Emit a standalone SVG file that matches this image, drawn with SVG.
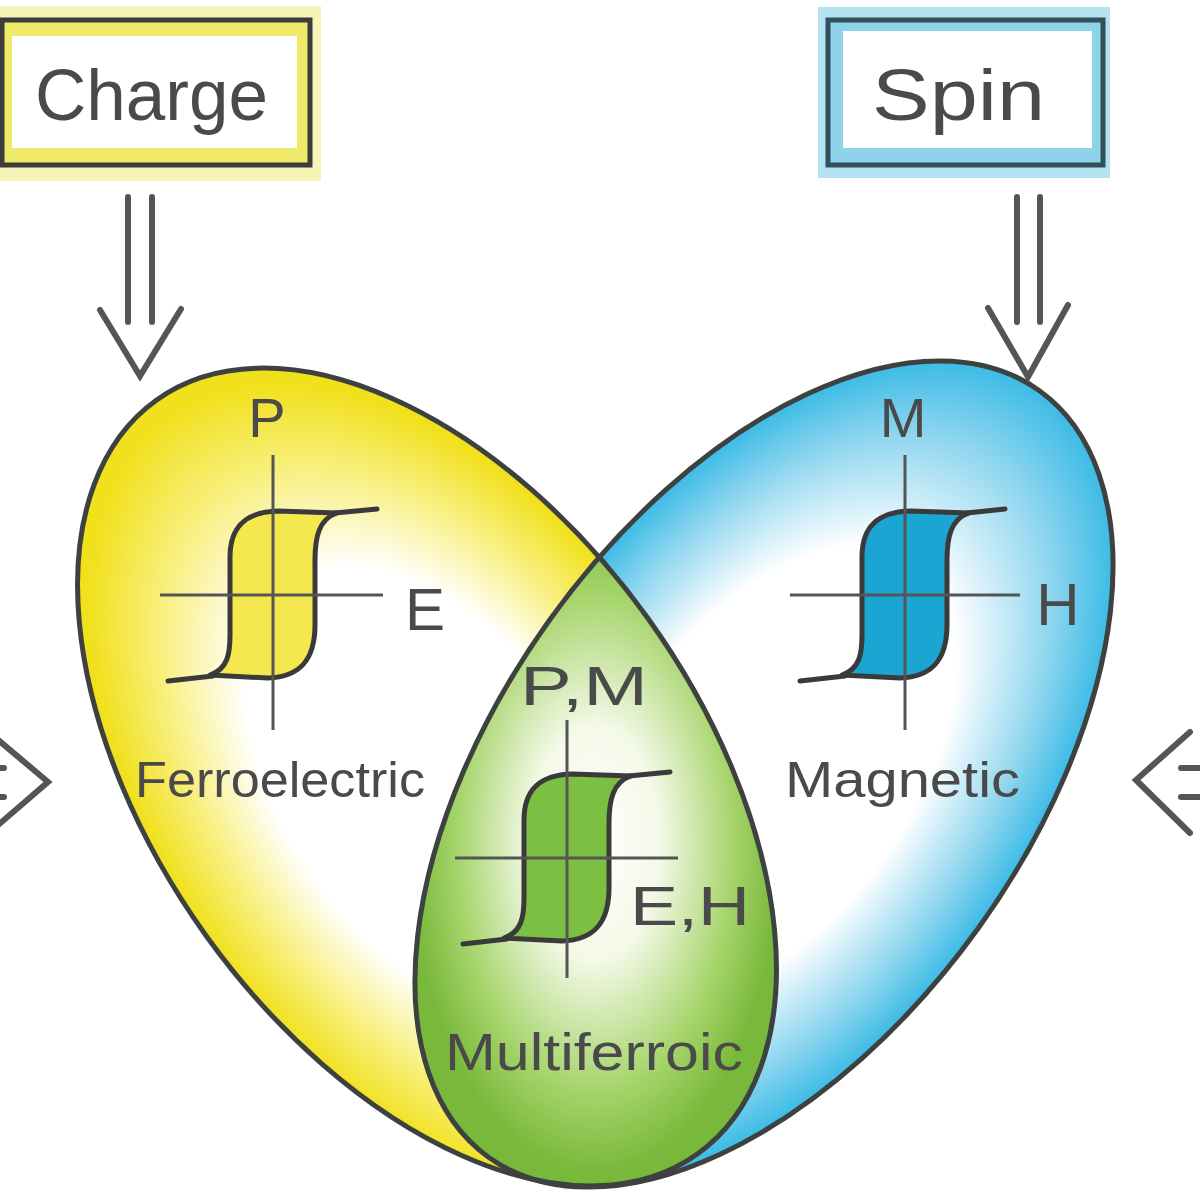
<svg xmlns="http://www.w3.org/2000/svg" width="1200" height="1200" viewBox="0 0 1200 1200">
<style>
.lbl{font-family:"Liberation Sans","DejaVu Sans",sans-serif;fill:#4a4a4a}
.ax{stroke:#555;stroke-width:3;fill:none}
.loop{stroke:#3a3a3a;stroke-width:5;stroke-linejoin:round}
.tail{stroke:#3a3a3a;stroke-width:5;stroke-linecap:round;fill:none}
.arr{stroke:#555;stroke-width:6;fill:none;stroke-linecap:round;stroke-linejoin:miter}
.outl{fill:none;stroke:#3d4240;stroke-width:5}
</style>
<defs>
<radialGradient id="gy" cx="0.52" cy="0.5" r="0.5">
<stop offset="0" stop-color="#ffffff"/>
<stop offset="0.55" stop-color="#ffffff"/>
<stop offset="0.8" stop-color="#f8ef7a"/>
<stop offset="1" stop-color="#f1e01c"/>
</radialGradient>
<radialGradient id="gb" cx="0.5" cy="0.5" r="0.5">
<stop offset="0" stop-color="#ffffff"/>
<stop offset="0.55" stop-color="#ffffff"/>
<stop offset="0.82" stop-color="#8fd6ef"/>
<stop offset="1" stop-color="#3cbbe6"/>
</radialGradient>
<radialGradient id="gg" cx="0.5" cy="0.47" r="0.5">
<stop offset="0" stop-color="#ffffff"/>
<stop offset="0.35" stop-color="#f4f9e8"/>
<stop offset="0.75" stop-color="#a5d46a"/>
<stop offset="1" stop-color="#78b83a"/>
</radialGradient>
<ellipse id="ey" cx="0" cy="0" rx="464" ry="272" transform="translate(427,777) rotate(54.3)"/>
<ellipse id="eb" cx="0" cy="0" rx="472" ry="264" transform="translate(764,774) rotate(-54.3)"/>
<clipPath id="cy"><use href="#ey"/></clipPath>
<clipPath id="cb"><use href="#eb"/></clipPath>
<path id="loopShape" d="M -63,80 C -45,74 -43,58 -43,40 L -43,-38 C -43,-68 -28,-83 5,-84 L 64,-82 C 46,-76 42,-58 42,-35 L 42,30 C 42,66 26,82 -5,83 Z"/>
</defs>
<rect width="1200" height="1200" fill="#ffffff"/>

<g id="charge-box">
<rect x="-10" y="6" width="331" height="175" fill="#f7f4b8"/>
<rect x="2" y="20" width="308" height="145" fill="#efe96a" stroke="#3c3c3c" stroke-width="5"/>
<rect x="12" y="36" width="285" height="112" fill="#ffffff"/>
<text class="lbl" x="35" y="120" font-size="72" textLength="233" lengthAdjust="spacingAndGlyphs">Charge</text>
</g>

<g id="spin-box">
<rect x="818" y="7" width="292" height="171" fill="#b3e2f0"/>
<rect x="828" y="20" width="275" height="145" fill="#8fd3ea" stroke="#33505a" stroke-width="5"/>
<rect x="843" y="31" width="249" height="117" fill="#ffffff"/>
<text class="lbl" x="872" y="120" font-size="72" textLength="173" lengthAdjust="spacingAndGlyphs">Spin</text>
</g>

<g id="ferroelectric">
<use href="#ey" fill="url(#gy)"/>
</g>
<g id="magnetic">
<use href="#eb" fill="url(#gb)"/>
</g>
<g id="multiferroic" clip-path="url(#cy)">
<rect x="410" y="530" width="370" height="665" fill="url(#gg)" clip-path="url(#cb)"/>
</g>
<use href="#ey" class="outl"/>
<use href="#eb" class="outl"/>

<g id="plot-fe" transform="translate(273,595)">
<use href="#loopShape" fill="#f5e84e" class="loop"/>
<path class="tail" d="M -105,86 L -60,81 M 62,-82 L 104,-86"/>
<line class="ax" x1="0" y1="-140" x2="0" y2="135"/>
<line class="ax" x1="-113" y1="0" x2="110" y2="0"/>
</g>
<g id="plot-m" transform="translate(905,595)">
<use href="#loopShape" fill="#1ba5d3" class="loop"/>
<path class="tail" d="M -105,86 L -60,81 M 62,-82 L 100,-86"/>
<line class="ax" x1="0" y1="-140" x2="0" y2="135"/>
<line class="ax" x1="-115" y1="0" x2="115" y2="0"/>
</g>
<g id="plot-mf" transform="translate(567,858)">
<use href="#loopShape" fill="#7cc043" class="loop"/>
<path class="tail" d="M -104,86 L -60,81 M 62,-82 L 103,-86"/>
<line class="ax" x1="0" y1="-138" x2="0" y2="120"/>
<line class="ax" x1="-112" y1="0" x2="111" y2="0"/>
</g>

<g id="labels">
<text class="lbl" x="267" y="437" font-size="56" text-anchor="middle">P</text>
<text class="lbl" x="425" y="630" font-size="60" text-anchor="middle">E</text>
<text class="lbl" x="903" y="437" font-size="56" text-anchor="middle">M</text>
<text class="lbl" x="1058" y="625" font-size="60" text-anchor="middle">H</text>
<text class="lbl" x="520" y="705" font-size="56" textLength="128" lengthAdjust="spacingAndGlyphs">P,M</text>
<text class="lbl" x="630" y="925" font-size="56" textLength="120" lengthAdjust="spacingAndGlyphs">E,H</text>
<text class="lbl" x="135" y="797" font-size="50" textLength="290" lengthAdjust="spacingAndGlyphs">Ferroelectric</text>
<text class="lbl" x="785" y="797" font-size="50" textLength="235" lengthAdjust="spacingAndGlyphs">Magnetic</text>
<text class="lbl" x="445" y="1070" font-size="52" textLength="298" lengthAdjust="spacingAndGlyphs">Multiferroic</text>
</g>

<g id="connectors">
<path class="arr" d="M 128,197 L 128,322 M 152,197 L 152,322 M 100,310 L 140,376 L 181,309"/>
<path class="arr" d="M 1017,197 L 1017,322 M 1040,197 L 1040,322 M 988,308 L 1028,377 L 1068,305"/>
<path class="arr" d="M -10,733 L 48,782 L -10,832 M -20,768 L 4,768 M -20,797 L 4,797"/>
<path class="arr" d="M 1190,732 L 1136,780 L 1190,833 M 1181,768 L 1210,768 M 1181,797 L 1210,797"/>
</g>
</svg>
